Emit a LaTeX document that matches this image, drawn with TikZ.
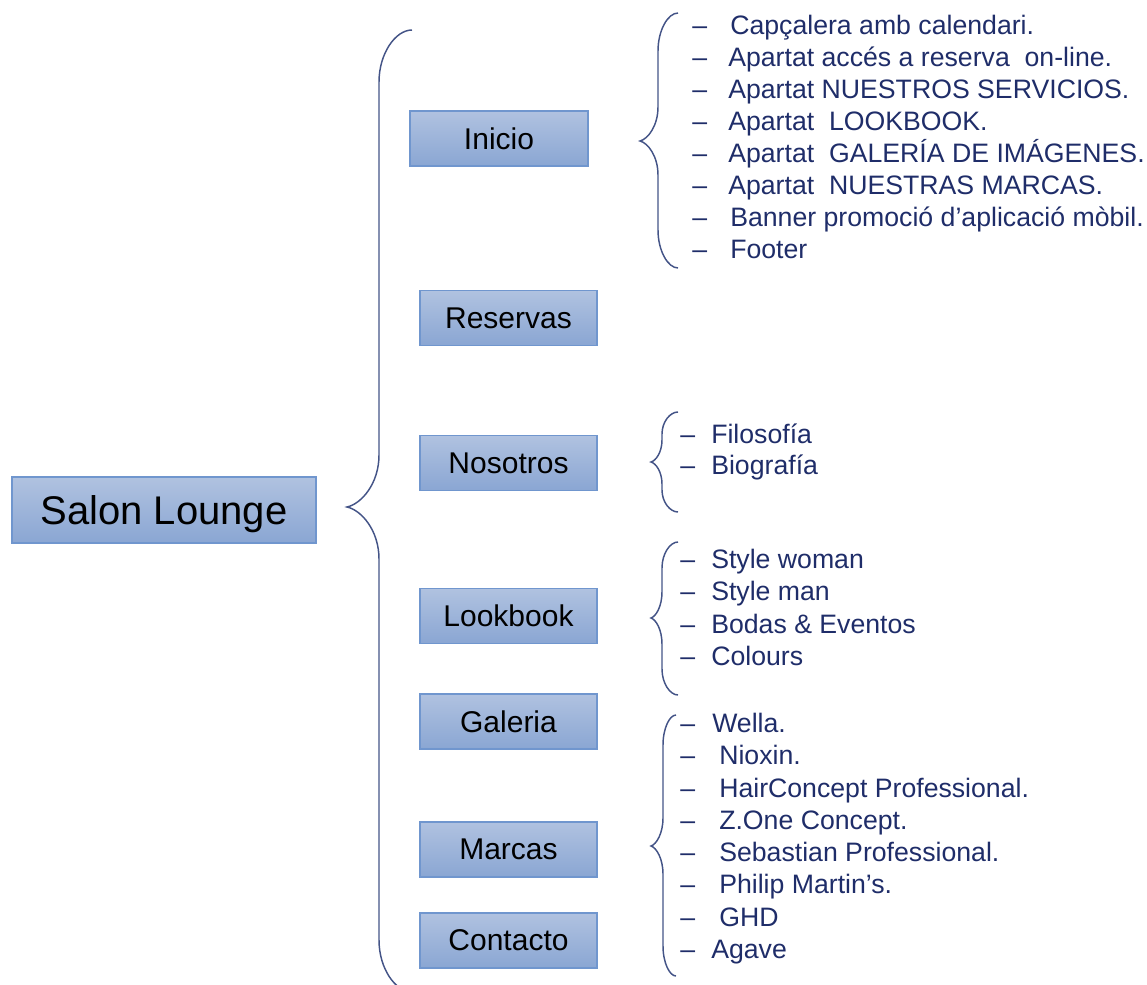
\documentclass[tikz,border=0pt]{standalone}
\usepackage{fontspec}
\setmainfont{Liberation Sans}
\definecolor{boxline}{RGB}{112,150,206}
\definecolor{boxtop}{RGB}{176,194,224}
\definecolor{boxbot}{RGB}{138,166,211}
\definecolor{navy}{RGB}{31,45,105}
\definecolor{bracec}{RGB}{68,84,135}
% #1 end x, #2 top y, #3 straight x, #4 tip x, #5 tip y, #6 bottom y, #7 end radius, #8 tip radius
\newcommand\brc[8]{%
  \draw[bracestyle] (#1,#2)
    .. controls ({#3+0.5*(#1-#3)},#2) and (#3,{#2+0.45*#7}) .. (#3,{#2+#7})
    -- (#3,{#5-#8})
    .. controls (#3,{#5-0.45*#8}) and ({#4+0.45*(#3-#4)},{#5-0.06*#8}) .. (#4,#5)
    .. controls ({#4+0.45*(#3-#4)},{#5+0.06*#8}) and (#3,{#5+0.45*#8}) .. (#3,{#5+#8})
    -- (#3,{#6-#7})
    .. controls (#3,{#6-0.45*#7}) and ({#3+0.5*(#1-#3)},#6) .. (#1,#6);}
\newcommand\li[5]{%
  \node[litem] (#5d) at (#1,#3) {–};
  \node[litem] (#5) at (#2,#3) {#4};}
\begin{document}
\begin{tikzpicture}[x=0.75pt,y=-0.75pt,
  box/.style={draw=boxline, line width=0.9pt, top color=boxtop, bottom color=boxbot,
    inner sep=0pt, minimum width=132.75pt, minimum height=41.25pt,
    font=\fontsize{22.5}{22.5}\selectfont, text=black},
  bracestyle/.style={draw=bracec, line width=1.1pt},
  litem/.style={anchor=base west, inner sep=0pt, text=navy,
    font=\fontsize{20}{20}\selectfont}]
\useasboundingbox (0,0) rectangle (1147,985);
% boxes
\node[box, minimum width=228pt, minimum height=49.5pt, text height=21.5pt, text depth=0pt,
  font=\fontsize{30}{30}\selectfont] (root) at (164,510) {Salon Lounge};
\node[box, minimum width=133.5pt] (inicio) at (499,138.5) {Inicio};
\node[box] (reservas) at (508.5,318) {Reservas};
\node[box] (nosotros) at (508.5,463) {Nosotros};
\node[box] (lookbook) at (508.5,616) {Lookbook};
\node[box] (galeria) at (508.5,721.5) {Galeria};
\node[box] (marcas) at (508.5,849.5) {Marcas};
\node[box] (contacto) at (508.5,940.5) {Contacto};
% braces
\brc{412}{30}{379}{347}{507}{992}{52}{52}
\brc{678}{13}{658}{640}{141}{268}{38}{34}
\brc{678}{412}{662}{651}{462}{512}{22}{22}
\brc{678}{542}{662}{651}{618}{695}{26}{26}
\brc{676}{715}{663}{651}{846}{976}{30}{28}
% Inicio list
\li{692}{730}{34}{Capçalera amb calendari.}{i1}
\li{692}{728}{66}{Apartat accés a reserva\ \ on-line.}{i2}
\li{692}{728}{98}{Apartat NUESTROS SERVICIOS.}{i3}
\li{692}{728}{130}{Apartat\ \ LOOKBOOK.}{i4}
\li{692}{728}{162}{Apartat\ \ GALERÍA DE IMÁGENES.}{i5}
\li{692}{728}{194}{Apartat\ \ NUESTRAS MARCAS.}{i6}
\li{692}{730}{226}{Banner promoció d’aplicació mòbil.}{i7}
\li{692}{730}{258}{Footer}{i8}
% Nosotros list
\li{680}{711}{443}{Filosofía}{n1}
\li{680}{711}{474}{Biografía}{n2}
% Lookbook list
\li{680}{711}{568}{Style woman}{l1}
\li{680}{711}{600}{Style man}{l2}
\li{680}{711}{633}{Bodas \& Eventos}{l3}
\li{680}{711}{665}{Colours}{l4}
% Marcas list
\li{680}{712}{732}{Wella.}{m1}
\li{680}{719}{764}{Nioxin.}{m2}
\li{680}{719}{797}{HairConcept Professional.}{m3}
\li{680}{719}{829}{Z.One Concept.}{m4}
\li{680}{719}{861}{Sebastian Professional.}{m5}
\li{680}{719}{893}{Philip Martin’s.}{m6}
\li{680}{719}{926}{GHD}{m7}
\li{680}{711}{958}{Agave}{m8}
\end{tikzpicture}
\end{document}
